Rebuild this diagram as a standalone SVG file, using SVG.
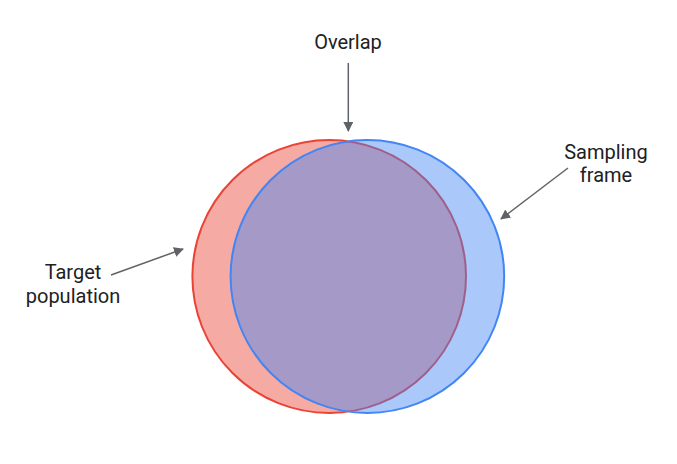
<svg xmlns="http://www.w3.org/2000/svg" width="677" height="464" viewBox="0 0 677 464">
<style>
.lbl{font-family:Roboto,"Open Sans","Liberation Sans",sans-serif;font-size:20px;fill:#202124;text-anchor:middle}
.conn{stroke:#5f6368;stroke-width:1.5;fill:none;marker-end:url(#ah)}
</style>
<defs>
<marker id="ah" viewBox="0 0 10 10" refX="9" refY="5" markerWidth="10" markerHeight="10" markerUnits="userSpaceOnUse" orient="auto">
<path d="M0,0 L10,5 L0,10 z" fill="#5f6368"/>
</marker>
</defs>
<rect width="677" height="464" fill="#ffffff"/>
<g id="target-population">
<ellipse cx="329.2" cy="276.5" rx="136.8" ry="136.5" fill="#EA4335" fill-opacity="0.45" stroke="#EA4335" stroke-width="2"/>
</g>
<g id="sampling-frame">
<ellipse cx="367.4" cy="276.5" rx="136.8" ry="136.5" fill="#4285F4" fill-opacity="0.45" stroke="#4285F4" stroke-width="2"/>
</g>
<g id="labels">
<text class="lbl" x="348" y="49">Overlap</text>
<text class="lbl" x="73" y="279">Target</text>
<text class="lbl" x="73" y="303">population</text>
<text class="lbl" x="606" y="159">Sampling</text>
<text class="lbl" x="606" y="182">frame</text>
</g>
<g id="connectors">
<line class="conn" x1="348.3" y1="63" x2="348.3" y2="131"/>
<line class="conn" x1="111" y1="275" x2="183" y2="249"/>
<line class="conn" x1="568" y1="168" x2="501" y2="219"/>
</g>
</svg>
